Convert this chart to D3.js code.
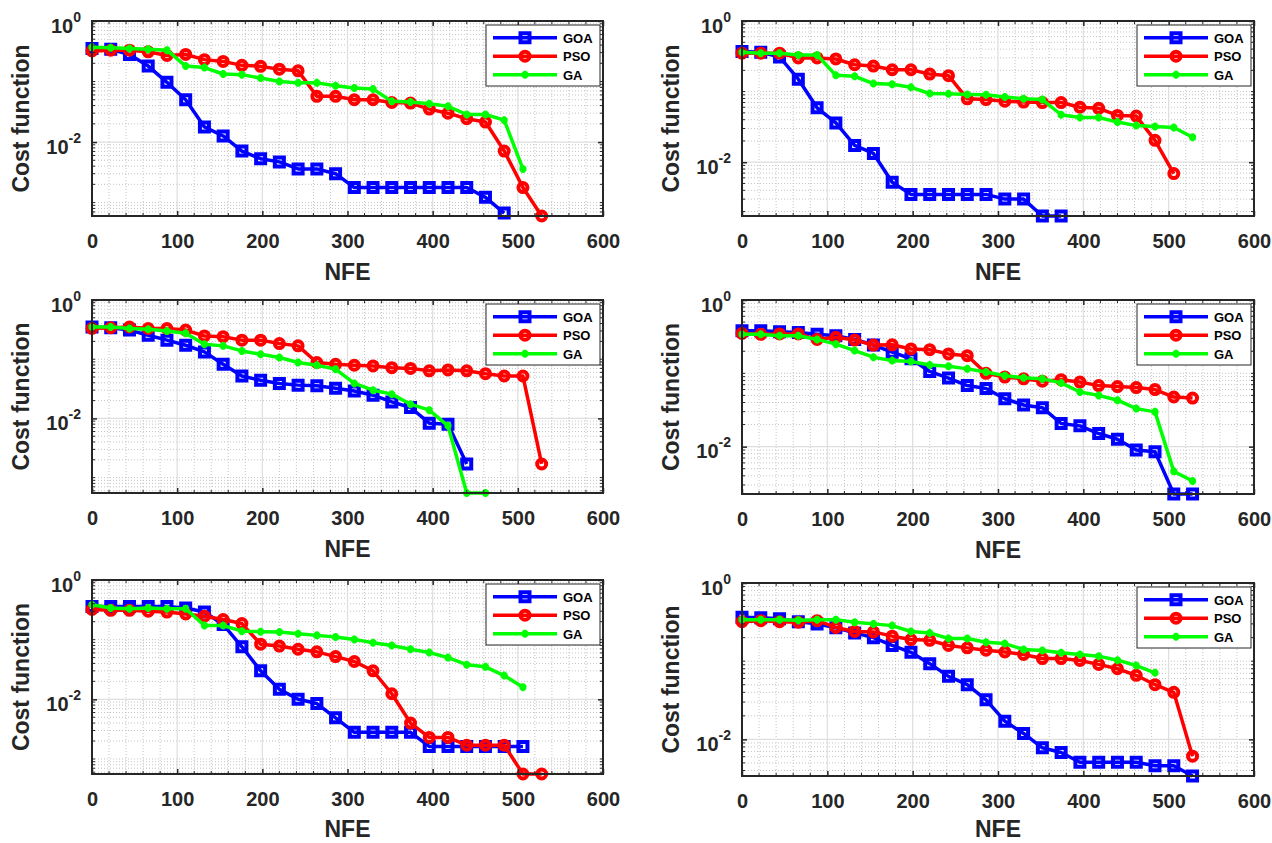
<!DOCTYPE html>
<html>
<head>
<meta charset="utf-8">
<script src="https://cdn.jsdelivr.net/npm/d3@7"></script>
<style>
  body { margin: 0; background: #fff; }
  svg { display: block; }
</style>
</head>
<body>
<svg></svg>
<script>

// NFE values where each run was sampled
let nfe = [0, 22, 44, 66, 88, 110, 132, 154, 176, 198, 220, 242, 264, 286, 308, 330, 352, 374, 396, 418, 440, 462, 484, 506, 528];
let xTicks = [0, 100, 200, 300, 400, 500, 600];
let yTicks = [1e-2, 1e0];
let yTickExp = ["-2", "0"];
let algNames = ["GOA", "PSO", "GA"];

// panel 1 (top left)
let goa1 = [0.35, 0.34, 0.28, 0.18, 0.097, 0.050, 0.0178, 0.0126, 0.0071, 0.0053, 0.0047, 0.0036, 0.0036, 0.0030, 0.00177, 0.00177, 0.00177, 0.00177, 0.00177, 0.00177, 0.00177, 0.00122, 0.00067];
let pso1 = [0.32, 0.33, 0.33, 0.31, 0.27, 0.28, 0.23, 0.215, 0.185, 0.178, 0.16, 0.15, 0.057, 0.057, 0.050, 0.050, 0.045, 0.044, 0.035, 0.030, 0.0243, 0.0214, 0.0071, 0.00177, 0.0006];
let ga1 = [0.37, 0.36, 0.35, 0.34, 0.33, 0.18, 0.17, 0.133, 0.13, 0.114, 0.100, 0.095, 0.095, 0.085, 0.078, 0.075, 0.047, 0.046, 0.043, 0.039, 0.0285, 0.0285, 0.023, 0.0036];

// panel 2 (top right)
let goa2 = [0.37, 0.36, 0.31, 0.15, 0.059, 0.036, 0.0173, 0.0133, 0.0052, 0.0035, 0.0035, 0.0035, 0.0035, 0.0035, 0.0030, 0.0030, 0.00173, 0.00173];
let pso2 = [0.35, 0.35, 0.35, 0.30, 0.30, 0.29, 0.24, 0.23, 0.204, 0.204, 0.177, 0.168, 0.079, 0.077, 0.073, 0.071, 0.070, 0.070, 0.060, 0.058, 0.046, 0.045, 0.0204, 0.0069];
let ga2 = [0.36, 0.35, 0.35, 0.33, 0.33, 0.17, 0.165, 0.13, 0.127, 0.115, 0.094, 0.093, 0.091, 0.090, 0.084, 0.079, 0.077, 0.047, 0.043, 0.043, 0.037, 0.033, 0.032, 0.031, 0.0226];

// panel 3 (middle left)
let goa3 = [0.35, 0.34, 0.31, 0.254, 0.21, 0.172, 0.133, 0.082, 0.052, 0.044, 0.039, 0.0365, 0.0355, 0.0324, 0.029, 0.0247, 0.019, 0.0153, 0.0083, 0.0080, 0.0017];
let pso3 = [0.33, 0.34, 0.35, 0.33, 0.33, 0.31, 0.247, 0.24, 0.21, 0.21, 0.184, 0.168, 0.088, 0.082, 0.079, 0.077, 0.072, 0.070, 0.0636, 0.066, 0.0636, 0.057, 0.052, 0.052, 0.0017];
let ga3 = [0.35, 0.35, 0.33, 0.32, 0.30, 0.275, 0.179, 0.168, 0.138, 0.121, 0.107, 0.088, 0.079, 0.068, 0.039, 0.030, 0.0257, 0.0174, 0.0138, 0.0075, 0.00055, 0.00055];

// panel 4 (middle right)
let goa4 = [0.38, 0.38, 0.37, 0.36, 0.34, 0.325, 0.29, 0.243, 0.194, 0.158, 0.106, 0.086, 0.068, 0.062, 0.045, 0.037, 0.034, 0.0207, 0.0192, 0.0151, 0.0126, 0.0090, 0.0085, 0.00226, 0.00226];
let pso4 = [0.35, 0.34, 0.345, 0.345, 0.29, 0.31, 0.284, 0.243, 0.245, 0.215, 0.21, 0.184, 0.174, 0.100, 0.089, 0.084, 0.078, 0.082, 0.076, 0.068, 0.066, 0.064, 0.060, 0.0475, 0.046];
let ga4 = [0.34, 0.34, 0.325, 0.325, 0.29, 0.25, 0.204, 0.166, 0.149, 0.145, 0.130, 0.125, 0.115, 0.104, 0.093, 0.087, 0.084, 0.074, 0.0556, 0.050, 0.043, 0.033, 0.0298, 0.0046, 0.0034];

// panel 5 (bottom left)
let goa5 = [0.36, 0.36, 0.36, 0.36, 0.36, 0.34, 0.29, 0.18, 0.076, 0.030, 0.0147, 0.0100, 0.0085, 0.0049, 0.0028, 0.0028, 0.0028, 0.0028, 0.00162, 0.00162, 0.00162, 0.00162, 0.00162, 0.00162];
let pso5 = [0.32, 0.31, 0.31, 0.30, 0.29, 0.27, 0.247, 0.217, 0.186, 0.084, 0.078, 0.069, 0.0625, 0.052, 0.043, 0.030, 0.0124, 0.0040, 0.0023, 0.0023, 0.0017, 0.0017, 0.0017, 0.00056, 0.00056];
let ga5 = [0.385, 0.34, 0.33, 0.34, 0.33, 0.33, 0.173, 0.173, 0.139, 0.136, 0.134, 0.126, 0.118, 0.111, 0.101, 0.089, 0.080, 0.069, 0.061, 0.050, 0.038, 0.035, 0.025, 0.016];

// panel 6 (bottom right)
let goa6 = [0.365, 0.36, 0.35, 0.32, 0.30, 0.267, 0.23, 0.20, 0.159, 0.130, 0.093, 0.064, 0.050, 0.032, 0.0171, 0.0119, 0.0078, 0.0068, 0.0051, 0.0051, 0.0051, 0.0051, 0.0046, 0.0046, 0.0034];
let pso6 = [0.32, 0.33, 0.32, 0.315, 0.33, 0.27, 0.24, 0.237, 0.209, 0.189, 0.185, 0.159, 0.148, 0.138, 0.131, 0.122, 0.108, 0.108, 0.102, 0.091, 0.080, 0.066, 0.050, 0.040, 0.0061];
let ga6 = [0.34, 0.34, 0.34, 0.335, 0.34, 0.34, 0.315, 0.30, 0.285, 0.24, 0.23, 0.195, 0.195, 0.175, 0.168, 0.141, 0.137, 0.128, 0.122, 0.116, 0.103, 0.088, 0.071];

let panels = [[goa1, pso1, ga1], [goa2, pso2, ga2], [goa3, pso3, ga3], [goa4, pso4, ga4], [goa5, pso5, ga5], [goa6, pso6, ga6]];

// layout: plot box of each panel [left, top, right, bottom]
let boxes = [[92, 21, 603, 216], [742, 21, 1254, 216], [92, 300, 603, 493], [742, 300, 1254, 494], [92, 580, 603, 774], [742, 583, 1254, 776]];

let colors = ["#0000ff", "#ff0000", "#00ff00"];
let markers = [
  {d: "M-4.5,-4.5H4.5V4.5H-4.5Z", w: 4},
  {d: "M4.5,0A4.5,4.5 0 1,1 -4.5,0A4.5,4.5 0 1,1 4.5,0Z", w: 4},
  {d: "M-3.5,0H3.5M0,-4V4M-2.6,-2.6L2.6,2.6M-2.6,2.6L2.6,-2.6", w: 2.6}
];
let font = "'Liberation Sans', Arial, sans-serif";
let axisColor = "#262626";

let svg = d3.select("svg").attr("width", 1272).attr("height", 843);

panels.forEach((series, p) => {
  let [L, T, R, B] = boxes[p];
  let ymin = d3.min(series, s => d3.min(s));

  let x = d3.scaleLinear().domain([0, 600]).range([L, R]);
  let y = d3.scaleLog().domain([ymin, 1]).range([B, T]);

  let xMinor = d3.range(0, 601, 20).filter(v => v % 100 !== 0);
  let yMinor = [];
  for (let e = -4; e <= -1; e++) {
    for (let k = 1; k <= 9; k++) {
      let v = k * Math.pow(10, e);
      if (v >= ymin && v < 1 && Math.abs(Math.log10(v) + 2) > 1e-6) yMinor.push(v);
    }
  }

  let g = svg.append("g");

  // minor grid
  g.append("g").selectAll("line").data(xMinor).enter().append("line")
    .attr("x1", d => x(d)).attr("x2", d => x(d)).attr("y1", T).attr("y2", B)
    .attr("stroke", "#c4c4c4").attr("stroke-width", 1).attr("stroke-dasharray", "1,2");
  g.append("g").selectAll("line").data(yMinor).enter().append("line")
    .attr("x1", L).attr("x2", R).attr("y1", d => y(d)).attr("y2", d => y(d))
    .attr("stroke", "#c4c4c4").attr("stroke-width", 1).attr("stroke-dasharray", "1,2");

  // major grid
  g.append("g").selectAll("line").data(xTicks.slice(1, -1)).enter().append("line")
    .attr("x1", d => x(d)).attr("x2", d => x(d)).attr("y1", T).attr("y2", B)
    .attr("stroke", "#dedede").attr("stroke-width", 1.2);
  g.append("g").selectAll("line").data(yTicks.filter(v => v < 1)).enter().append("line")
    .attr("x1", L).attr("x2", R).attr("y1", d => y(d)).attr("y2", d => y(d))
    .attr("stroke", "#dedede").attr("stroke-width", 1.2);

  // series
  series.forEach((vals, s) => {
    let pts = vals.map((v, i) => [nfe[i], v]);
    g.append("path")
      .attr("d", d3.line().x(d => x(d[0])).y(d => y(d[1]))(pts))
      .attr("fill", "none")
      .attr("stroke", colors[s])
      .attr("stroke-width", 3.5)
      .attr("stroke-linejoin", "round");
    g.append("g").selectAll("path").data(pts).enter().append("path")
      .attr("transform", d => `translate(${x(d[0])},${y(d[1])})`)
      .attr("d", markers[s].d)
      .attr("fill", "none")
      .attr("stroke", colors[s])
      .attr("stroke-width", markers[s].w);
  });

  // box
  g.append("rect")
    .attr("x", L).attr("y", T).attr("width", R - L).attr("height", B - T)
    .attr("fill", "none").attr("stroke", axisColor).attr("stroke-width", 2);

  // minor ticks
  let mt = g.append("g").attr("stroke", axisColor).attr("stroke-width", 1);
  yMinor.forEach(v => {
    mt.append("line").attr("x1", L).attr("x2", L + 3).attr("y1", y(v)).attr("y2", y(v));
    mt.append("line").attr("x1", R).attr("x2", R - 3).attr("y1", y(v)).attr("y2", y(v));
  });
  xMinor.forEach(v => {
    mt.append("line").attr("x1", x(v)).attr("x2", x(v)).attr("y1", B).attr("y2", B - 3);
    mt.append("line").attr("x1", x(v)).attr("x2", x(v)).attr("y1", T).attr("y2", T + 3);
  });

  // axes
  let styleAxis = sel => {
    sel.attr("color", axisColor).attr("font-family", font).attr("font-size", 20).attr("font-weight", "bold");
    sel.select(".domain").remove();
    sel.selectAll(".tick line").attr("stroke-width", 1.5);
  };

  g.append("g").attr("transform", `translate(0,${B})`)
    .call(d3.axisBottom(x).tickValues(xTicks).tickSizeInner(-5).tickSizeOuter(0).tickPadding(18))
    .call(styleAxis);
  g.append("g").attr("transform", `translate(0,${T})`)
    .call(d3.axisTop(x).tickValues(xTicks).tickSizeInner(-5).tickSizeOuter(0).tickFormat(() => ""))
    .call(styleAxis);
  g.append("g").attr("transform", `translate(${R},0)`)
    .call(d3.axisRight(y).tickValues(yTicks).tickSizeInner(-5).tickSizeOuter(0).tickFormat(() => ""))
    .call(styleAxis);
  g.append("g").attr("transform", `translate(${L},0)`)
    .call(d3.axisLeft(y).tickValues(yTicks).tickSizeInner(-5).tickSizeOuter(0).tickPadding(11).tickFormat(() => ""))
    .call(styleAxis)
    .selectAll(".tick text")
    .each(function(d, i) {
      let t = d3.select(this).attr("dy", null).attr("y", 11).attr("fill", axisColor);
      t.append("tspan").text("10");
      t.append("tspan").attr("dy", -11).attr("font-size", 14).text(yTickExp[i]);
    });

  // axis titles
  g.append("text")
    .attr("x", (L + R) / 2).attr("y", Math.min(B + 64, 837))
    .attr("text-anchor", "middle")
    .attr("font-family", font).attr("font-size", 23).attr("font-weight", "bold")
    .attr("fill", axisColor)
    .text("NFE");
  g.append("text")
    .attr("transform", `translate(${L - 63},${(T + B) / 2}) rotate(-90)`)
    .attr("text-anchor", "middle")
    .attr("font-family", font).attr("font-size", 23).attr("font-weight", "bold")
    .attr("fill", axisColor)
    .text("Cost function");

  // legend
  let lg = g.append("g").attr("transform", `translate(${R - 117},${T + 4})`);
  lg.append("rect").attr("width", 114).attr("height", 61)
    .attr("fill", "#fff").attr("stroke", axisColor).attr("stroke-width", 1);
  algNames.forEach((name, s) => {
    let ry = 12.7 + s * 18.5;
    lg.append("line").attr("x1", 7).attr("x2", 71).attr("y1", ry).attr("y2", ry)
      .attr("stroke", colors[s]).attr("stroke-width", 3.5);
    lg.append("path").attr("transform", `translate(39,${ry})`)
      .attr("d", markers[s].d).attr("fill", "none")
      .attr("stroke", colors[s]).attr("stroke-width", markers[s].w);
    lg.append("text").attr("x", 77).attr("y", ry + 5)
      .attr("font-family", font).attr("font-size", 13).attr("font-weight", "bold")
      .attr("fill", "#000")
      .text(name);
  });
});

</script>
</body>
</html>
